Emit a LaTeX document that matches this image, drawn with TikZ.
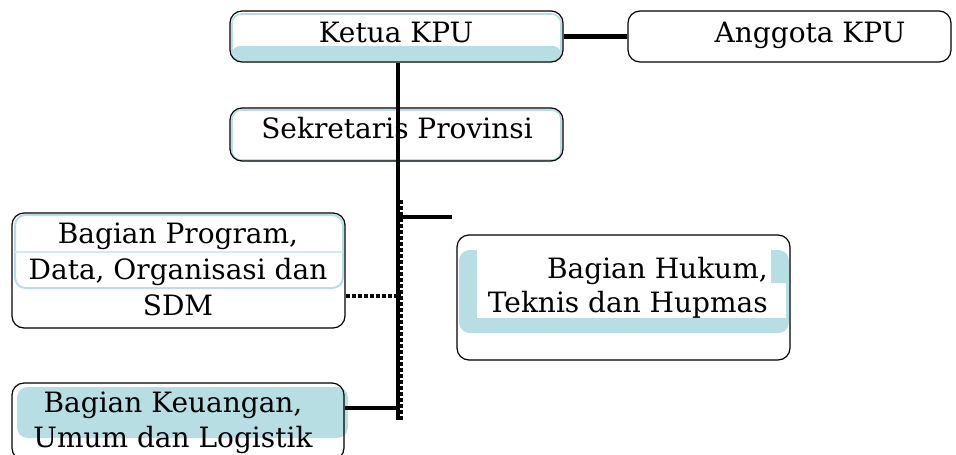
\documentclass[tikz,border=0pt]{standalone}
\usepackage{fontspec}
\setmainfont{DejaVu Serif}
\usetikzlibrary{fit}
\definecolor{pale}{RGB}{183,222,226}

\begin{document}
\begin{tikzpicture}[x=0.75pt, y=-0.75pt,
    box/.style={draw, rounded corners=9pt, line width=0.9pt, inner sep=0pt},
    lbl/.style={font=\fontsize{21}{27}\selectfont, anchor=base, align=center, inner sep=0pt},
    link/.style={line width=3.4pt},
    dotlink/.style={line width=3.4pt, dash pattern=on 3pt off 1.5pt}]
    \useasboundingbox (0,0) rectangle (956,454);
    % shading behind the boxes
    \fill[pale, rounded corners=6pt] (232,46) rectangle (561,61);
    \draw[pale, line width=1.2pt, rounded corners=7pt] (232,14) rectangle (561,60);
    \draw[pale, line width=1.2pt, rounded corners=7pt] (232,110) rectangle (561,160);
    \draw[pale, line width=1.5pt, rounded corners=8pt] (15,215) rectangle (343,288);
    \draw[pale!60, line width=0.8pt] (15,252) -- (343,252);
    \fill[pale, rounded corners=8pt] (459,250) rectangle (789,333);
    \fill[white] (477,250) rectangle (771,318);
    \fill[white] (771,283) rectangle (786,318);
    \fill[pale, rounded corners=8pt] (17,387) rectangle (348,438);

    \node[box, fit={(230,11) (563,62)}] (ketua) {};
    \node[box, fit={(628,11) (951,62)}] (anggota) {};
    \node[box, fit={(230,108) (563,161)}] (sekretaris) {};
    \node[box, fit={(12,213) (345,328)}] (program) {};
    \node[box, fit={(457,235) (790,360)}] (hukum) {};
    \node[box, fit={(12,383) (344,460)}] (keuangan) {};

    % base of a text with more lines is the base of its last line
    \node[lbl] (ketuatxt) at (396,42) {Ketua KPU};
    \node[lbl] (anggotatxt) at (810,42) {Anggota KPU};
    \node[lbl] (sekretaristxt) at (397,138) {Sekretaris Provinsi};
    \node[lbl] (programtxt) at (178,315) {Bagian Program,\\Data, Organisasi dan\\SDM};
    \node[lbl, anchor=base east, align=right, font=\fontsize{21}{25.5}\selectfont] (hukumtxt) at (768,312) {Bagian Hukum,\\Teknis dan Hupmas};
    \node[lbl, font=\fontsize{21}{26}\selectfont] (keuangantxt) at (173,447) {Bagian Keuangan,\\Umum dan Logistik};

    % lines
    \coordinate (tbot) at (398,420);
    \coordinate (dtop) at (401,200);
    \coordinate (br) at (452,217);
    \coordinate (pj) at (400,296);
    \coordinate (kj) at (400,408);
    \draw[link] (ketua) -- (anggota);
    \draw[link] (ketua.south -| tbot) -- (tbot);
    \draw[dotlink] (dtop) -- (dtop |- tbot);
    \draw[link] (br -| tbot) -- (br);
    \draw[dotlink] (program.east |- pj) -- (pj);
    \draw[link] (keuangan.east |- kj) -- (kj);
\end{tikzpicture}
\end{document}
